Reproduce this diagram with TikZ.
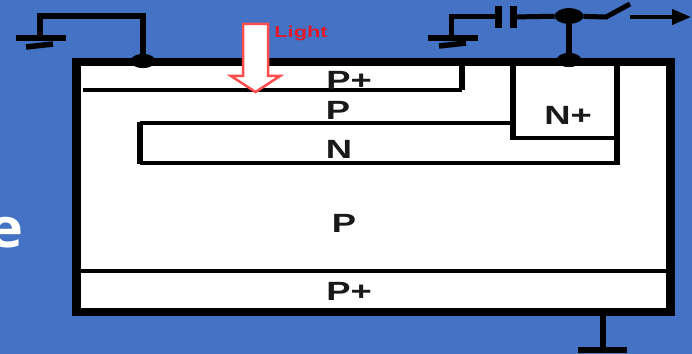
\documentclass[tikz,border=0pt]{standalone}
\usepackage{fontspec}
\setmainfont{Liberation Sans}
\newfontfamily\widefont[FakeStretch=1.38,UprightFont=*-Bold]{Liberation Sans}
\newfontfamily\slidefont[FakeStretch=1.12,UprightFont=*-Bold]{Open Sans}
\usetikzlibrary{shapes.geometric,arrows.meta}
\definecolor{slideblue}{HTML}{4472C4}
\definecolor{lightred}{HTML}{E0192B}
\tikzset{
  region/.style = {font = \fontsize{15}{15}\selectfont\widefont, inner sep = 0pt, text = black!90},
  wire/.style = {line width = 0.11cm},
  inner_line/.style = {line width = 0.08cm},
  contact/.style = {draw, ellipse, fill = black, inner sep = 0pt, minimum width = 0.48cm, minimum height = 0.27cm}
}

\begin{document}
\begin{tikzpicture}[x = 0.02cm, y = -0.02cm]
      \fill [slideblue] (0, 0) rectangle (692, 354);
      \useasboundingbox (0, 0) rectangle (692, 354);

      \node (title_end) [anchor = east, inner sep = 0pt, text = white, font = \fontsize{31}{31}\selectfont\slidefont] at (24, 233) {e};

      \node (device) [draw, rectangle, fill = white, line width = 0.165cm, minimum width = 11.88cm, minimum height = 5cm] at (373.5, 187) {};

      % layers inside the device
      \coordinate (pplus_left) at (83, 90.5);
      \coordinate (pplus_corner) at (462, 90.5);
      \coordinate (pplus_top) at (462, 60);
      \coordinate (n_top_left) at (140, 123.5);
      \coordinate (n_bottom_left) at (140, 163);
      \coordinate (n_side_top) at (140, 125);
      \coordinate (n_side_bottom) at (140, 161.5);
      \coordinate (nplus_top_left) at (513, 62);
      \coordinate (nplus_bottom_left) at (513, 140);
      \coordinate (nplus_line_left) at (513, 138);
      \coordinate (nplus_top_right) at (617, 62);
      \coordinate (nplus_bottom_right) at (617, 138);
      \coordinate (n_bottom_right) at (617, 165);
      \coordinate (n_line_right) at (617, 163);
      \coordinate (nplus_junction) at (513, 123.5);
      \coordinate (sub_left) at (81, 271);
      \coordinate (sub_right) at (667, 271);

      \draw [inner_line, line width = 0.08cm] (pplus_left) -- (pplus_corner);
      \draw [inner_line, line width = 0.12cm] (pplus_corner) -- (pplus_top);
      \draw [inner_line, line width = 0.08cm] (nplus_junction) -- (n_top_left);
      \draw [inner_line, line cap = rect, line width = 0.12cm] (n_side_top) -- (n_side_bottom);
      \draw [inner_line, line width = 0.09cm] (n_bottom_left) -- (n_line_right);
      \draw [inner_line, line width = 0.13cm] (nplus_top_left) -- (nplus_bottom_left);
      \draw [inner_line] (nplus_line_left) -- (nplus_bottom_right);
      \draw [inner_line, line width = 0.13cm] (nplus_top_right) -- (n_bottom_right);
      \draw [inner_line, line width = 0.1cm] (sub_left) -- (sub_right);

      \node (label_pplus_top) [region] at (349, 80) {P+};
      \node (label_p_top) [region] at (338, 110) {P};
      \node (label_n) [region] at (339, 149) {N};
      \node (label_nplus) [region] at (568, 115) {N+};
      \node (label_p) [region] at (344, 223) {P};
      \node (label_pplus_bottom) [region] at (349, 291) {P+};

      % light arrow
      \draw [draw = red!70, fill = white, line width = 0.05cm, line join = miter] (243, 24) -- (268, 24) -- (268, 76) -- (280, 76) -- (255.5, 92) -- (231, 76) -- (243, 76) -- cycle;
      \node (light) [anchor = west, inner sep = 0pt, text = lightred, font = \fontsize{9}{9}\selectfont\widefont] at (274, 33.5) {Light};

      % left ground
      \node (contact_left) [contact] at (143, 61) {};
      \coordinate (gnd_left) at (40, 38);
      \coordinate (gnd_left_top) at (40, 16);
      \coordinate (gnd_left_over) at (143, 16);
      \coordinate (gnd_left_a) at (16, 38);
      \coordinate (gnd_left_b) at (66, 38);
      \coordinate (gnd_left_c) at (26, 47);
      \coordinate (gnd_left_d) at (53, 44);
      \draw [wire, line join = miter] (gnd_left) -- (gnd_left_top) -- (gnd_left_over) -- (contact_left);
      \draw [wire] (gnd_left_a) -- (gnd_left_b);
      \draw [wire] (gnd_left_c) -- (gnd_left_d);

      % right ground, capacitor, switch
      \node (contact_right) [contact] at (569, 60) {};
      \node (junction) [contact, minimum width = 0.56cm, minimum height = 0.3cm] at (569, 16) {};
      \coordinate (gnd_right) at (451, 38);
      \coordinate (gnd_right_top) at (451, 17);
      \coordinate (gnd_right_a) at (428, 38);
      \coordinate (gnd_right_b) at (478, 38);
      \coordinate (gnd_right_c) at (439, 46);
      \coordinate (gnd_right_d) at (466, 43);
      \coordinate (cap_a) at (498, 17);
      \coordinate (cap_a_top) at (498, 6);
      \coordinate (cap_a_bottom) at (498, 28);
      \coordinate (cap_b) at (513, 17);
      \coordinate (cap_b_top) at (513, 6);
      \coordinate (cap_b_bottom) at (513, 28);
      \coordinate (switch_start) at (606, 17);
      \coordinate (switch_end) at (630, 4);
      \coordinate (out_start) at (630, 17);
      \coordinate (out_end) at (691, 17);
      \draw [wire] (gnd_right_a) -- (gnd_right_b);
      \draw [wire] (gnd_right_c) -- (gnd_right_d);
      \draw [wire, line width = 0.1cm] (gnd_right) -- (gnd_right_top) -- (cap_a);
      \draw [line width = 0.14cm] (cap_a_top) -- (cap_a_bottom);
      \draw [line width = 0.14cm] (cap_b_top) -- (cap_b_bottom);
      \draw [wire, line width = 0.1cm] (cap_b) -- (junction);
      \draw [wire, line width = 0.1cm] (junction) -- (switch_start) -- (switch_end);
      \draw [wire, line width = 0.13cm] (junction) -- (contact_right);
      \draw [-{Triangle[length = 0.38cm, width = 0.3cm]}, line width = 0.08cm] (out_start) -- (out_end);

      % substrate contact
      \coordinate (sub_contact) at (603, 315);
      \coordinate (sub_gnd) at (603, 350);
      \coordinate (sub_gnd_a) at (578, 350);
      \coordinate (sub_gnd_b) at (627, 350);
      \draw [wire] (sub_contact) -- (sub_gnd);
      \draw [wire] (sub_gnd_a) -- (sub_gnd_b);
    \end{tikzpicture}
\end{document}
